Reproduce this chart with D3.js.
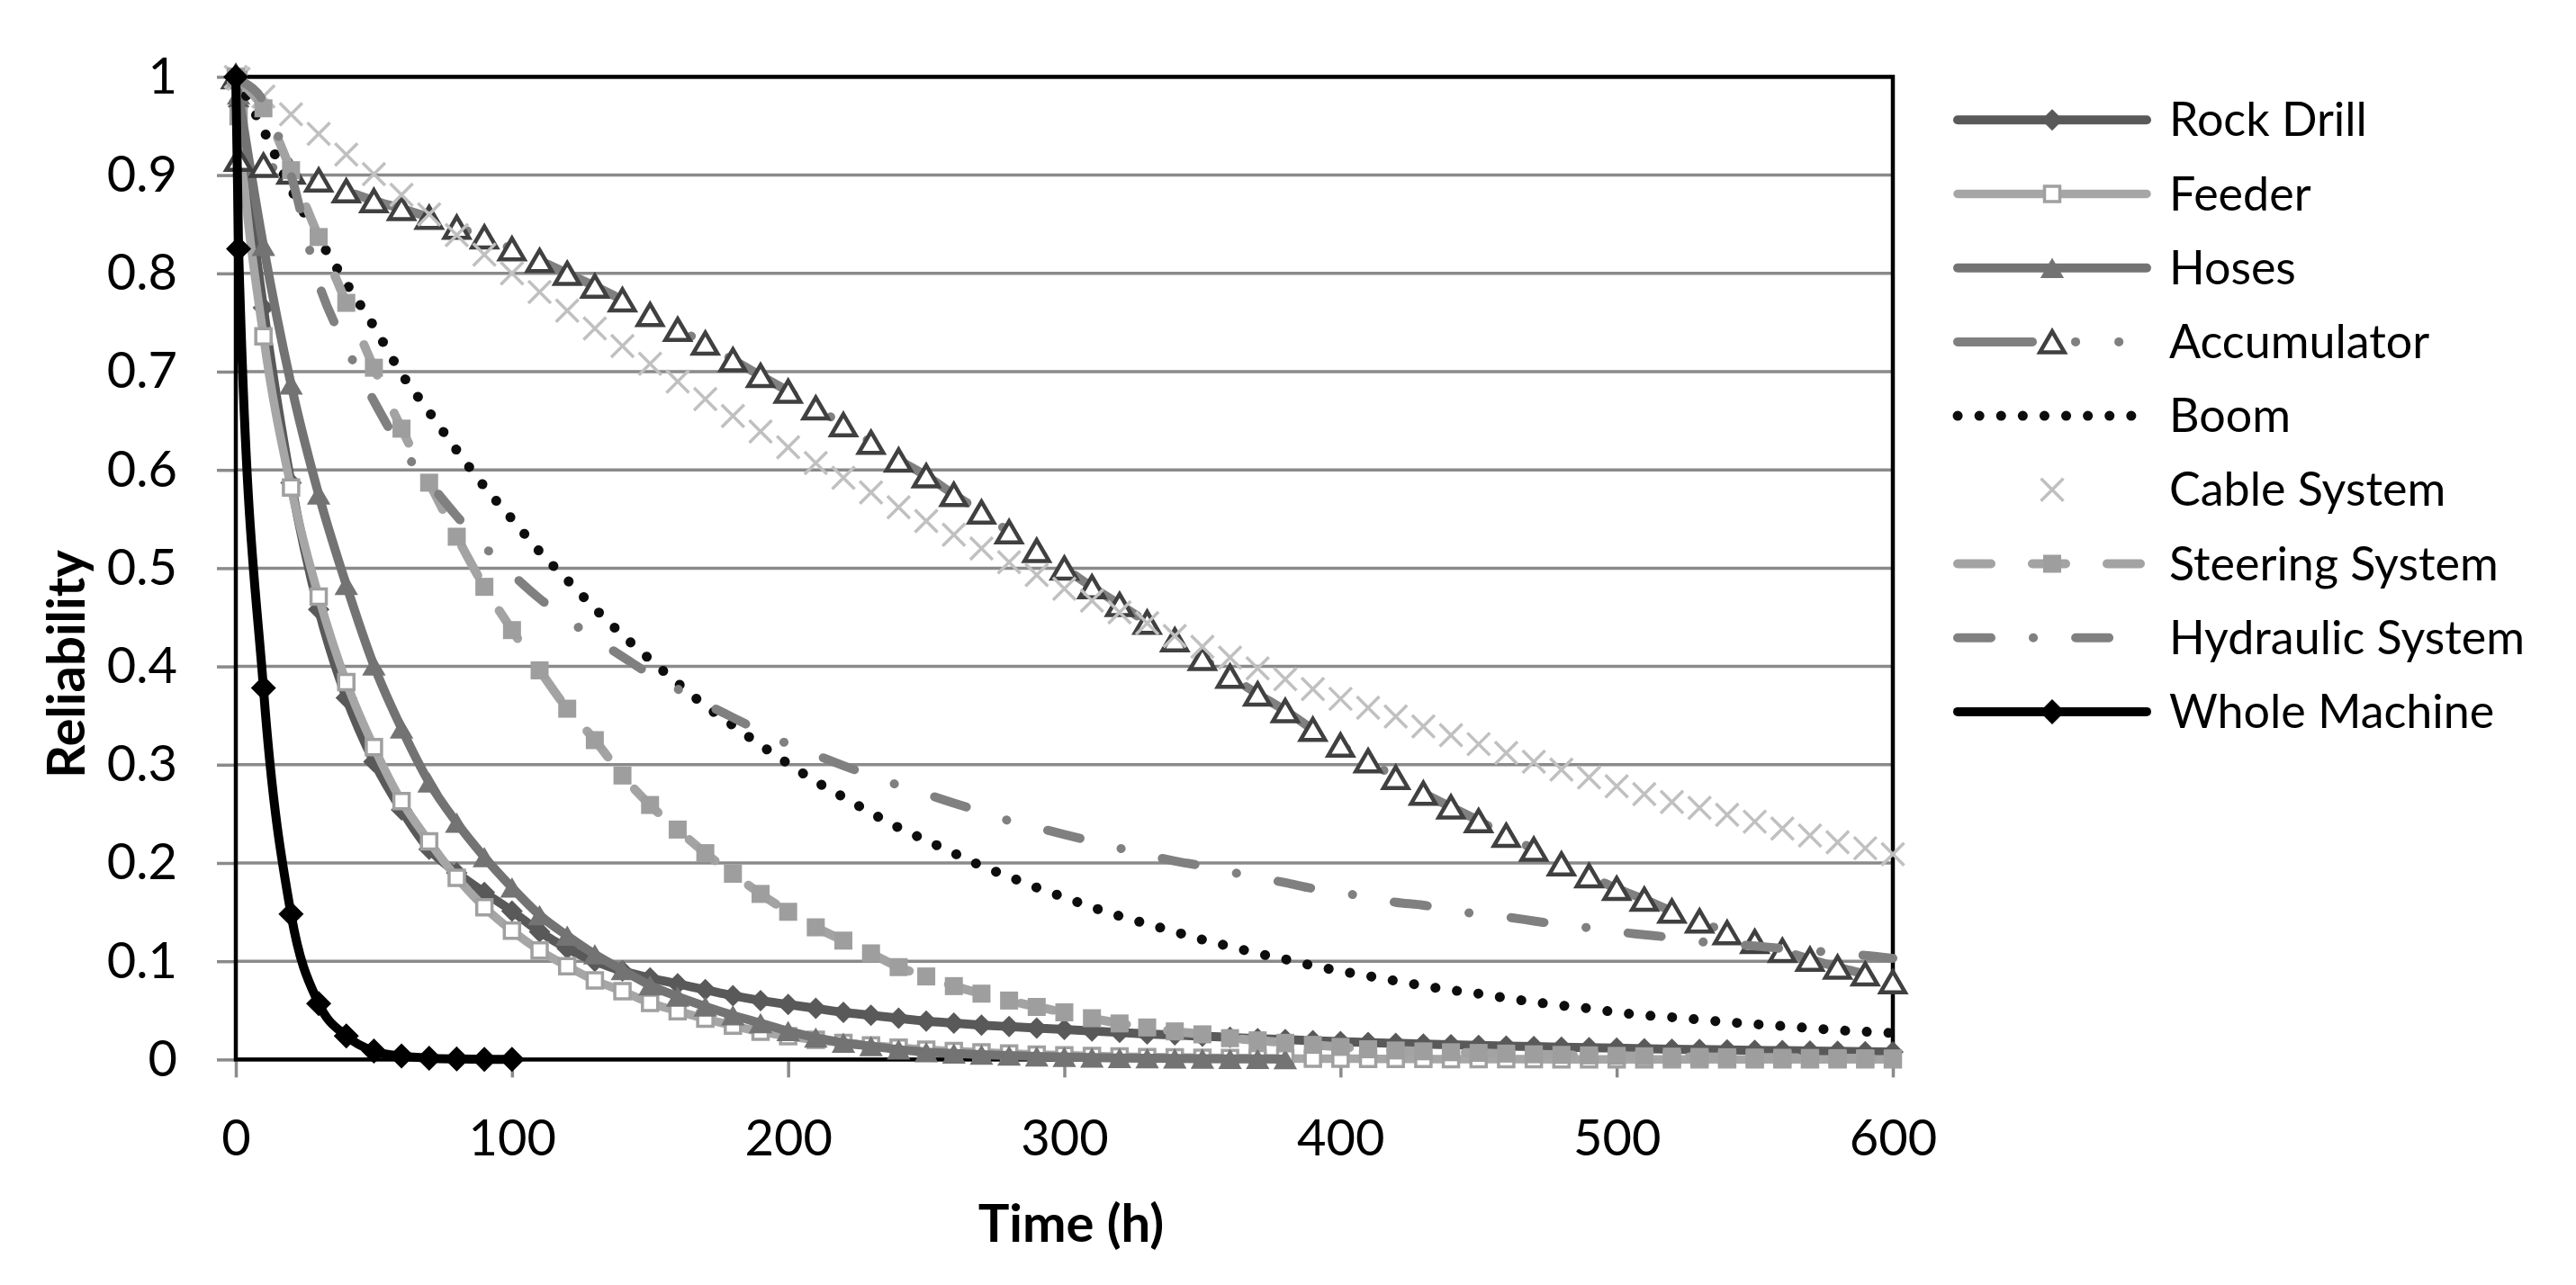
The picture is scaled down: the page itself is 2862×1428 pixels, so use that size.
<!DOCTYPE html>
<html>
<head>
<meta charset="utf-8">
<script src="https://cdn.jsdelivr.net/npm/d3@7"></script>
<style>
	body { margin: 0; background: white; }
	svg { display: block; }
	text { font-family: Lato, "Open Sans", sans-serif; fill: black; }
</style>
</head>
<body>
<svg id="chart" width="2862" height="1428"></svg>
<script>

// time axis in hours (second sample sits at t = 1)
var time = [0, 1,
	10, 20, 30, 40, 50, 60, 70, 80, 90, 100,
	110, 120, 130, 140, 150, 160, 170, 180, 190, 200,
	210, 220, 230, 240, 250, 260, 270, 280, 290, 300,
	310, 320, 330, 340, 350, 360, 370, 380, 390, 400,
	410, 420, 430, 440, 450, 460, 470, 480, 490, 500,
	510, 520, 530, 540, 550, 560, 570, 580, 590, 600];

var rockDrill = [1, 0.97,
	0.765, 0.587, 0.458, 0.368, 0.303, 0.254, 0.214, 0.19, 0.17, 0.151,
	0.13, 0.113, 0.1, 0.09, 0.083, 0.077, 0.071, 0.065, 0.06, 0.056,
	0.052, 0.048, 0.045, 0.042, 0.039, 0.037, 0.035, 0.0335, 0.032, 0.0305,
	0.029, 0.0275, 0.026, 0.025, 0.0237, 0.0225, 0.0213, 0.0202, 0.0192, 0.0182,
	0.0173, 0.0165, 0.0157, 0.015, 0.0143, 0.0137, 0.0131, 0.0125, 0.012, 0.0115,
	0.011, 0.0105, 0.0101, 0.0097, 0.0093, 0.009, 0.0086, 0.0083, 0.008, 0.0077];

var feeder = [1, 0.96,
	0.736, 0.582, 0.471, 0.384, 0.318, 0.263, 0.222, 0.185, 0.155, 0.131,
	0.111, 0.095, 0.0805, 0.0695, 0.0576, 0.0492, 0.0415, 0.0345, 0.0282, 0.0237,
	0.02, 0.0169, 0.0143, 0.012, 0.01, 0.0085, 0.0072, 0.006, 0.005, 0.0043,
	0.0036, 0.003, 0.0025, 0.0021, 0.0018, 0.0015, 0.0013, 0.0011, 0.0009, 0.0008,
	0.0007, 0.0006, 0.0005, 0.0004, 0.0004, 0.0003, 0.0003, 0.0002, 0.0002, 0.0002,
	0.0002, 0.0001, 0.0001, 0.0001, 0.0001, 0.0001, 0.0001, 0.0001, 0.0001, 0.0001];

// hoses stop at 380 h
var hoses = [1, 0.982,
	0.828, 0.687, 0.575, 0.483, 0.401, 0.337, 0.282, 0.241, 0.206, 0.175,
	0.147, 0.126, 0.107, 0.091, 0.0755, 0.064, 0.054, 0.045, 0.037, 0.029,
	0.0223, 0.0171, 0.0136, 0.0101, 0.0075, 0.0062, 0.005, 0.004, 0.0032, 0.0026,
	0.002, 0.0016, 0.0013, 0.001, 0.0008, 0.0007, 0.0005, 0.0004];

var accumulator = [1, 0.916,
	0.91, 0.903, 0.895, 0.884, 0.874, 0.866, 0.857, 0.847, 0.837, 0.825,
	0.813, 0.8, 0.787, 0.773, 0.758, 0.743, 0.729, 0.712, 0.696, 0.68,
	0.663, 0.646, 0.628, 0.61, 0.594, 0.575, 0.557, 0.537, 0.518, 0.5,
	0.481, 0.463, 0.445, 0.427, 0.408, 0.39, 0.372, 0.355, 0.336, 0.32,
	0.304, 0.287, 0.271, 0.257, 0.243, 0.228, 0.214, 0.199, 0.187, 0.174,
	0.163, 0.151, 0.141, 0.129, 0.12, 0.111, 0.102, 0.094, 0.087, 0.079];

var boom = [1, 0.995,
	0.946, 0.886, 0.836, 0.79, 0.746, 0.698, 0.659, 0.62, 0.583, 0.55,
	0.517, 0.488, 0.459, 0.432, 0.407, 0.383, 0.36, 0.34, 0.32, 0.301,
	0.283, 0.267, 0.251, 0.236, 0.223, 0.21, 0.197, 0.186, 0.175, 0.165,
	0.155, 0.146, 0.138, 0.13, 0.122, 0.115, 0.108, 0.102, 0.0955, 0.09,
	0.085, 0.08, 0.075, 0.0707, 0.067, 0.0625, 0.0585, 0.055, 0.052, 0.048,
	0.045, 0.043, 0.0405, 0.038, 0.036, 0.034, 0.032, 0.0298, 0.0283, 0.027];

var cableSystem = [1, 0.998,
	0.98, 0.962, 0.942, 0.921, 0.901, 0.88, 0.86, 0.839, 0.819, 0.8,
	0.781, 0.762, 0.744, 0.726, 0.708, 0.69, 0.672, 0.655, 0.639, 0.623,
	0.607, 0.592, 0.577, 0.562, 0.548, 0.534, 0.52, 0.506, 0.493, 0.479,
	0.467, 0.455, 0.444, 0.431, 0.42, 0.409, 0.398, 0.387, 0.377, 0.367,
	0.358, 0.349, 0.339, 0.33, 0.321, 0.312, 0.303, 0.295, 0.287, 0.278,
	0.27, 0.262, 0.256, 0.249, 0.242, 0.235, 0.228, 0.221, 0.215, 0.209];

var steeringSystem = [1, 0.997,
	0.968, 0.905, 0.837, 0.77, 0.704, 0.642, 0.587, 0.532, 0.481, 0.437,
	0.396, 0.357, 0.325, 0.289, 0.259, 0.234, 0.21, 0.189, 0.1685, 0.1503,
	0.1345, 0.121, 0.108, 0.094, 0.0845, 0.0747, 0.067, 0.06, 0.0535, 0.048,
	0.042, 0.0367, 0.0326, 0.0286, 0.0256, 0.0217, 0.0195, 0.017, 0.0149, 0.0128,
	0.0104, 0.0092, 0.0083, 0.0074, 0.0067, 0.006, 0.0053, 0.0047, 0.0042, 0.0037,
	0.0033, 0.0029, 0.0026, 0.0023, 0.002, 0.0018, 0.0016, 0.0014, 0.0012, 0.0011];

var hydraulicSystem = [1, 0.998,
	0.975, 0.9, 0.79, 0.725, 0.67, 0.622, 0.587, 0.553, 0.522, 0.494,
	0.469, 0.448, 0.428, 0.41, 0.392, 0.377, 0.362, 0.348, 0.334, 0.321,
	0.31, 0.299, 0.289, 0.279, 0.27, 0.261, 0.252, 0.243, 0.236, 0.229,
	0.222, 0.215, 0.208, 0.202, 0.197, 0.191, 0.185, 0.18, 0.174, 0.17,
	0.165, 0.16, 0.157, 0.152, 0.148, 0.145, 0.141, 0.137, 0.134, 0.13,
	0.127, 0.124, 0.12, 0.1175, 0.1155, 0.113, 0.111, 0.108, 0.106, 0.103];

// whole machine only runs to 100 h
var wholeMachine = [1, 0.825, 0.378, 0.148, 0.057, 0.024, 0.0085, 0.0035, 0.0013, 0.0005, 0.0002, 0.0001];

var xTicks = [0, 100, 200, 300, 400, 500, 600];
var yTicks = [0, 0.1, 0.2, 0.3, 0.4, 0.5, 0.6, 0.7, 0.8, 0.9, 1];

var seriesNames = ["Rock Drill", "Feeder", "Hoses", "Accumulator", "Boom", "Cable System", "Steering System", "Hydraulic System", "Whole Machine"];
var seriesValues = [rockDrill, feeder, hoses, accumulator, boom, cableSystem, steeringSystem, hydraulicSystem, wholeMachine];

// look of each series, same order as the names
var seriesStyles = [
	{ stroke: "#595959", width: 10, dash: null, marker: "diamond", size: 12, fill: "#595959", mstroke: "none" },
	{ stroke: "#a6a6a6", width: 9.5, dash: null, marker: "square", size: 8.5, fill: "white", mstroke: "#a0a0a0" },
	{ stroke: "#737373", width: 10, dash: null, marker: "triangle", size: 12.5, fill: "#737373", mstroke: "none" },
	{ stroke: "#808080", width: 10, dash: "83,48,0.1,48,0.1,48", marker: "triangle", size: 13, fill: "white", mstroke: "#404040" },
	{ stroke: "#0d0d0d", width: 11, dash: "0.1,24", marker: null },
	{ stroke: null, marker: "cross", size: 12.5, mstroke: "#c0c0c0" },
	{ stroke: "#a3a3a3", width: 10, dash: "37,46", marker: "square", size: 10, fill: "#9e9e9e", mstroke: "none" },
	{ stroke: "#808080", width: 10, dash: "37,47,0.1,47", marker: null },
	{ stroke: "#000000", width: 10, dash: null, marker: "diamond", size: 14, fill: "#000000", mstroke: "none" }
];

function renderChart(element) {

	var svg = d3.select(element);

	var plot = {
		left: 262,
		right: 2103,
		top: 85.4,
		bottom: 1177.4
	};

	var xScale = d3.scaleLinear()
		.domain([0, 600])
		.range([plot.left, plot.right]);

	var yScale = d3.scaleLinear()
		.domain([0, 1])
		.range([plot.bottom, plot.top]);

	drawGrid(svg, xScale, yScale, plot);
	drawSeries(svg, xScale, yScale);
	drawLegend(svg);

}

function drawGrid(svg, xScale, yScale, plot) {

	var gridColor = "#8a8a8a";

	svg.append("g")
		.selectAll("line")
		.data(yTicks)
		.enter()
		.append("line")
		.attr("x1", plot.left)
		.attr("x2", plot.right)
		.attr("y1", d => yScale(d))
		.attr("y2", d => yScale(d))
		.attr("stroke", gridColor)
		.attr("stroke-width", 3.5);

	var yAxis = svg.append("g")
		.attr("transform", "translate(" + plot.left + ",0)")
		.call(d3.axisLeft(yScale).tickValues(yTicks).tickFormat(d => String(d)).tickSize(21).tickPadding(44));

	var xAxis = svg.append("g")
		.attr("transform", "translate(0," + plot.bottom + ")")
		.call(d3.axisBottom(xScale).tickValues(xTicks).tickFormat(d => String(d)).tickSize(20).tickPadding(47));

	[yAxis, xAxis].forEach(function(axis) {
		axis.select(".domain").remove();
		axis.selectAll(".tick line").attr("stroke", gridColor).attr("stroke-width", 3.5);
		axis.selectAll(".tick text").attr("font-size", 56).attr("font-family", "Lato").attr("fill", "black");
	});

	// black frame round the plot area
	svg.append("rect")
		.attr("x", plot.left)
		.attr("y", plot.top)
		.attr("width", plot.right - plot.left)
		.attr("height", plot.bottom - plot.top)
		.attr("fill", "none")
		.attr("stroke", "black")
		.attr("stroke-width", 4.5);

	svg.append("text")
		.attr("transform", "translate(94, 738) rotate(-90)")
		.attr("text-anchor", "middle")
		.attr("font-size", 58)
		.attr("font-weight", 700)
		.text("Reliability");

	svg.append("text")
		.attr("x", 1190)
		.attr("y", 1380)
		.attr("text-anchor", "middle")
		.attr("font-size", 58)
		.attr("font-weight", 700)
		.text("Time (h)");

}

function markerPath(shape, s) {

	if (shape === "diamond") {
		return "M0," + (-s) + "L" + s + ",0L0," + s + "L" + (-s) + ",0Z";
	}
	if (shape === "square") {
		return "M" + (-s) + "," + (-s) + "H" + s + "V" + s + "H" + (-s) + "Z";
	}
	if (shape === "triangle") {
		return "M0," + (-s * 0.9) + "L" + (s * 1.05) + "," + (s * 0.9) + "H" + (-s * 1.05) + "Z";
	}
	// cross
	return "M" + (-s) + "," + (-s) + "L" + s + "," + s + "M" + s + "," + (-s) + "L" + (-s) + "," + s;

}

function drawMarker(g, style, x, y) {

	var path = g.append("path")
		.attr("transform", "translate(" + x + "," + y + ")")
		.attr("d", markerPath(style.marker, style.size));

	if (style.marker === "cross") {
		path.attr("fill", "none").attr("stroke", style.mstroke).attr("stroke-width", 3.5);
	} else {
		path.attr("fill", style.fill)
			.attr("stroke", style.mstroke)
			.attr("stroke-width", style.mstroke === "none" ? 0 : (style.marker === "triangle" ? 4.5 : 3.5))
			.attr("stroke-linejoin", "miter");
	}

}

function drawSeries(svg, xScale, yScale) {

	var line = d3.line()
		.x(d => xScale(d[0]))
		.y(d => yScale(d[1]))
		.curve(d3.curveMonotoneX);

	seriesValues.forEach(function(values, i) {

		var style = seriesStyles[i];
		var points = values.map((v, j) => [time[j], v]);
		var g = svg.append("g").attr("class", "series").attr("id", "series" + i);

		if (style.stroke) {
			g.append("path")
				.attr("d", line(points))
				.attr("fill", "none")
				.attr("stroke", style.stroke)
				.attr("stroke-width", style.width)
				.attr("stroke-linecap", "round")
				.attr("stroke-linejoin", "round")
				.attr("stroke-dasharray", style.dash);
		}

		if (style.marker) {
			points.forEach(function(p) {
				drawMarker(g, style, xScale(p[0]), yScale(p[1]));
			});
		}

	});

}

function drawLegend(svg) {

	var legend = svg.append("g").attr("class", "legend");

	var lineStart = 2175;
	var lineEnd = 2385;
	var markerX = 2280;
	var textX = 2410;
	var rowTop = 133.3;
	var rowStep = 82.2;

	seriesNames.forEach(function(name, i) {

		var style = seriesStyles[i];
		var y = rowTop + i * rowStep;

		if (style.stroke) {
			legend.append("line")
				.attr("x1", lineStart)
				.attr("x2", lineEnd)
				.attr("y1", y)
				.attr("y2", y)
				.attr("stroke", style.stroke)
				.attr("stroke-width", style.width)
				.attr("stroke-linecap", "round")
				.attr("stroke-dasharray", style.dash);
		}

		if (style.marker) {
			drawMarker(legend, style, markerX, y);
		}

		legend.append("text")
			.attr("x", textX)
			.attr("y", y + 18)
			.attr("font-size", 52)
			.text(name);

	});

}

renderChart("#chart");

</script>
</body>
</html>
